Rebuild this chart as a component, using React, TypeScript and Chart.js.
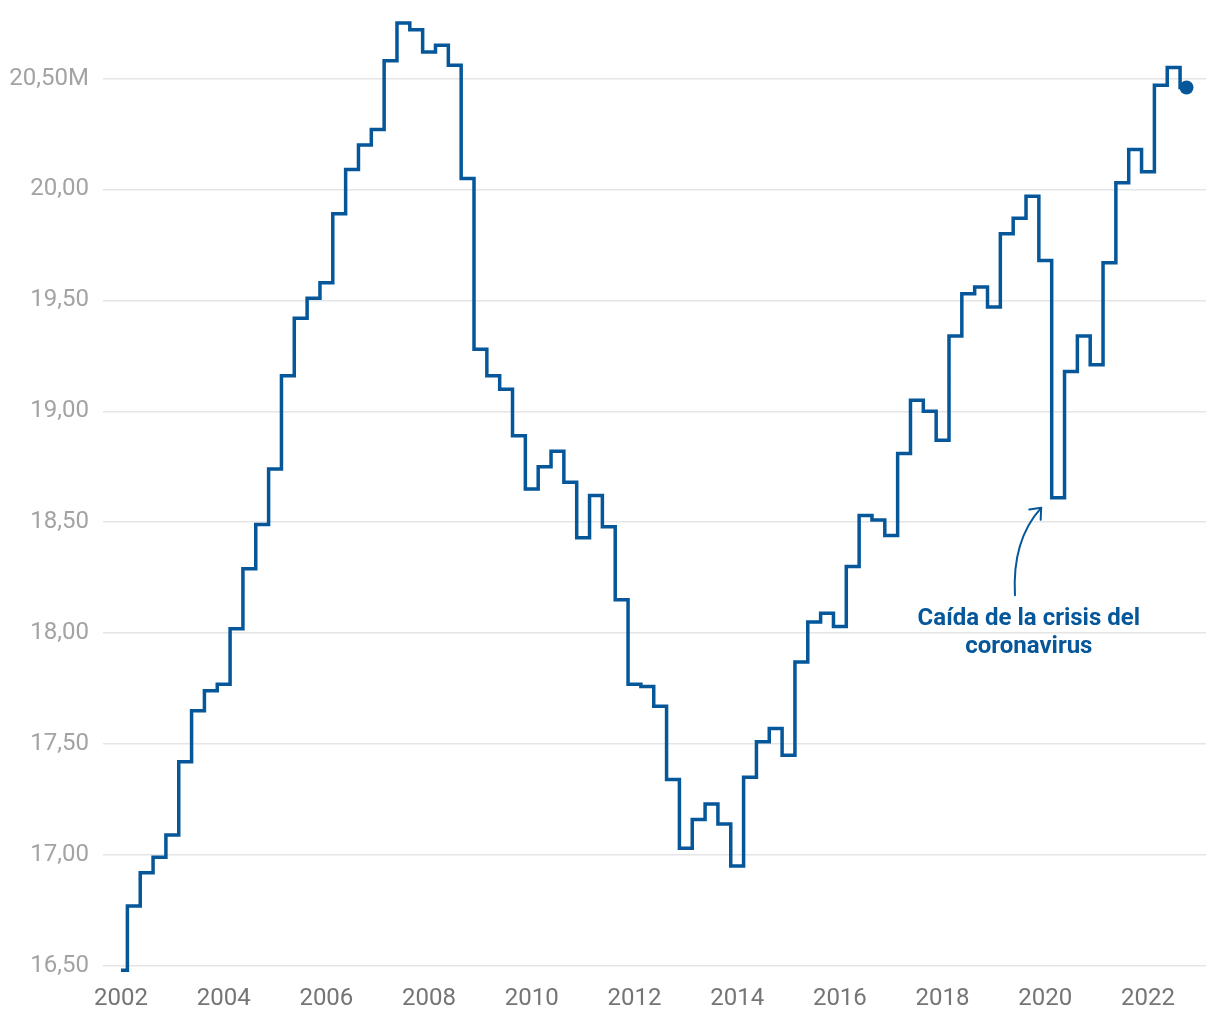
import React, { useEffect, useRef } from "react";
import { Chart, registerables } from "chart.js";

Chart.register(...registerables);

// Ocupados (millones), trimestral, 2002T1 - 2022T4
const startYear = 2002;
const quarterlyValues = [
  16.48, 16.77, 16.92, 16.99, // 2002
  17.09, 17.42, 17.65, 17.74, // 2003
  17.77, 18.02, 18.29, 18.49, // 2004
  18.74, 19.16, 19.42, 19.51, // 2005
  19.58, 19.89, 20.09, 20.2, // 2006
  20.27, 20.58, 20.75, 20.72, // 2007
  20.62, 20.65, 20.56, 20.05, // 2008
  19.28, 19.16, 19.1, 18.89, // 2009
  18.65, 18.75, 18.82, 18.68, // 2010
  18.43, 18.62, 18.48, 18.15, // 2011
  17.77, 17.76, 17.67, 17.34, // 2012
  17.03, 17.16, 17.23, 17.14, // 2013
  16.95, 17.35, 17.51, 17.57, // 2014
  17.45, 17.87, 18.05, 18.09, // 2015
  18.03, 18.3, 18.53, 18.51, // 2016
  18.44, 18.81, 19.05, 19.0, // 2017
  18.87, 19.34, 19.53, 19.56, // 2018
  19.47, 19.8, 19.87, 19.97, // 2019
  19.68, 18.61, 19.18, 19.34, // 2020
  19.21, 19.67, 20.03, 20.18, // 2021
  20.08, 20.47, 20.55, 20.46, // 2022
];

const xTickYears = [2002, 2004, 2006, 2008, 2010, 2012, 2014, 2016, 2018, 2020, 2022];
const yTickValues = [16.5, 17, 17.5, 18, 18.5, 19, 19.5, 20, 20.5];
const annotationLines = ["Caída de la crisis del", "coronavirus"];

const BLUE = "#05579a";

const annotationPlugin = {
  id: "covidAnnotation",
  afterDraw(chart: any) {
    const { ctx, scales } = chart;
    const xs = scales.x;
    const ys = scales.y;
    ctx.save();
    // text
    ctx.fillStyle = BLUE;
    ctx.font = "bold 24px Roboto";
    ctx.textAlign = "center";
    ctx.textBaseline = "middle";
    const tx = xs.getPixelForValue(2019.68);
    const ty = ys.getPixelForValue(18.063);
    annotationLines.forEach((line, i) => ctx.fillText(line, tx, ty + i * 28));
    // curved arrow
    const sx = xs.getPixelForValue(2019.41);
    const sy = ys.getPixelForValue(18.171);
    const cx = xs.getPixelForValue(2019.35);
    const cy = ys.getPixelForValue(18.42);
    const ex = xs.getPixelForValue(2019.92);
    const ey = ys.getPixelForValue(18.565);
    ctx.strokeStyle = BLUE;
    ctx.lineWidth = 2;
    ctx.lineCap = "round";
    ctx.beginPath();
    ctx.moveTo(sx, sy);
    ctx.quadraticCurveTo(cx, cy, ex, ey);
    ctx.stroke();
    // arrow head
    const dx = cx - ex;
    const dy = cy - ey;
    const len = Math.hypot(dx, dy);
    const ux = dx / len;
    const uy = dy / len;
    const headLen = 12;
    const ang = (40 * Math.PI) / 180;
    ctx.beginPath();
    for (const s of [1, -1]) {
      const a = s * ang;
      const rx = ux * Math.cos(a) - uy * Math.sin(a);
      const ry = ux * Math.sin(a) + uy * Math.cos(a);
      ctx.moveTo(ex, ey);
      ctx.lineTo(ex + rx * headLen, ey + ry * headLen);
    }
    ctx.stroke();
    ctx.restore();
  },
};

export default function App() {
  const canvasRef = useRef<HTMLCanvasElement | null>(null);

  useEffect(() => {
    if (!canvasRef.current) return;
    const lastIndex = quarterlyValues.length - 1;
    const points = quarterlyValues.map((v, i) => ({ x: startYear + i / 4, y: v }));
    const chart = new Chart(canvasRef.current, {
      type: "line",
      data: {
        datasets: [
          {
            data: points,
            stepped: "middle",
            borderColor: BLUE,
            borderWidth: 3.5,
            backgroundColor: BLUE,
            pointBackgroundColor: BLUE,
            pointBorderWidth: 0,
            pointRadius: (c: any) => (c.dataIndex === lastIndex ? 7 : 0),
            pointHoverRadius: (c: any) => (c.dataIndex === lastIndex ? 7 : 0),
            fill: false,
            clip: false as any,
          } as any,
        ],
      },
      options: {
        animation: false,
        responsive: false,
        devicePixelRatio: 1,
        layout: { autoPadding: false, padding: { top: 12, right: 14, bottom: 0, left: 0 } },
        plugins: {
          legend: { display: false },
          tooltip: { enabled: false },
        },
        events: [],
        scales: {
          x: {
            type: "linear",
            min: 2001.65,
            max: 2023.13,
            grid: { display: false },
            border: { display: false },
            ticks: {
              color: "#757575",
              font: { family: "Roboto", size: 24 },
              padding: 0,
              autoSkip: false,
              maxRotation: 0,
              callback: (v: any) => String(v),
            },
            afterBuildTicks: (s: any) => {
              s.ticks = xTickYears.map((v) => ({ value: v }));
            },
            afterFit: (s: any) => {
              s.height = 43;
              s.paddingLeft = 0;
              s.paddingRight = 0;
            },
          },
          y: {
            min: 16.45,
            max: 20.8,
            grid: { color: "#e5e5e5", lineWidth: 1.5, drawTicks: false },
            border: { display: false },
            ticks: {
              color: "#a3a3a3",
              font: { family: "Roboto", size: 24 },
              padding: 14,
              callback: (v: any) =>
                Number(v).toFixed(2).replace(".", ",") + (Number(v) === 20.5 ? "M" : ""),
            },
            afterBuildTicks: (s: any) => {
              s.ticks = yTickValues.map((v) => ({ value: v }));
            },
            afterFit: (s: any) => {
              s.width = 103;
              s.paddingTop = 0;
              s.paddingBottom = 0;
            },
          },
        },
      },
      plugins: [annotationPlugin],
    });
    return () => chart.destroy();
  }, []);

  return (
    <div style={{ position: "fixed", left: 0, top: 0, width: 1220, height: 1020, background: "#fff" }}>
      <canvas ref={canvasRef} width={1220} height={1020} />
    </div>
  );
}
